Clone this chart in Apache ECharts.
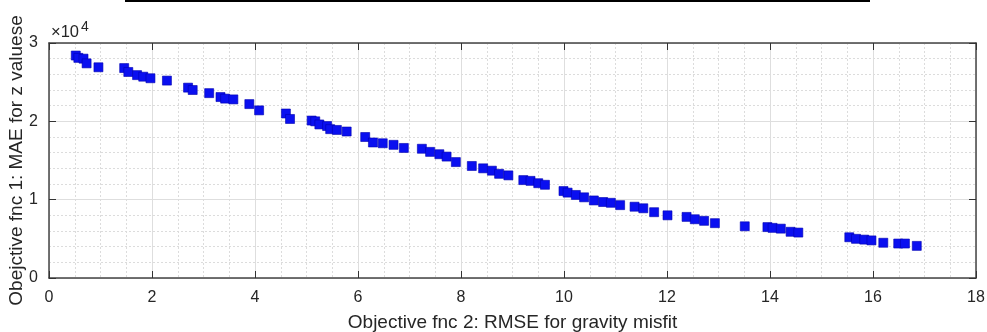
<!DOCTYPE html>
<html>
<head>
<meta charset="utf-8">
<script src="https://cdn.jsdelivr.net/npm/echarts@6/dist/echarts.min.js"></script>
<style>
  html, body { margin: 0; padding: 0; background: #fff; }
  #main { width: 987px; height: 332px; }
</style>
</head>
<body>
<div id="main"></div>
<script>
// RMSE for gravity misfit (x) and MAE for z values (y)
var rmse = [0.52, 0.57, 0.67, 0.73, 0.96, 1.46, 1.54, 1.71, 1.83, 1.97, 2.29, 2.70, 2.79, 3.11, 3.33, 3.42, 3.58, 3.89, 4.08,
  4.60, 4.68, 5.10, 5.17, 5.25, 5.40, 5.46, 5.59, 5.78, 6.14, 6.29, 6.48, 6.69, 6.89, 7.24, 7.40, 7.58, 7.72,
  7.90, 8.21, 8.43, 8.60, 8.74, 8.92, 9.21, 9.35, 9.50, 9.63, 9.99, 10.07, 10.23, 10.39, 10.58, 10.76, 10.91, 11.09, 11.37,
  11.54, 11.75, 12.01, 12.38, 12.54, 12.72, 12.93, 13.51, 13.95, 14.05, 14.21, 14.40, 14.55,
  15.54, 15.67, 15.83, 15.97, 16.20, 16.49, 16.62, 16.85];
var mae = [28400, 28100, 28000, 27400, 26900, 26800, 26300, 25900, 25700, 25500, 25200, 24300, 24000, 23600, 23100, 22900, 22800, 22200, 21400,
  21000, 20300, 20100, 20000, 19600, 19400, 19000, 18900, 18700, 18000, 17300, 17200, 17000, 16600, 16500, 16100, 15800, 15500,
  14800, 14300, 14000, 13700, 13300, 13100, 12500, 12400, 12100, 11900, 11100, 10900, 10600, 10300, 9900, 9700, 9600, 9300, 9100,
  8900, 8400, 8000, 7800, 7500, 7300, 7000, 6600, 6500, 6400, 6300, 5900, 5800,
  5200, 5000, 4900, 4800, 4500, 4400, 4400, 4100];
var xTicks = [0, 18, 2];
var yTicks = [0, 30000, 10000];

var points = rmse.map(function (v, i) { return [v, mae[i]]; });

var myChart = echarts.init(document.getElementById('main'), null, { renderer: 'canvas' });

var font = 'Liberation Sans, Arial, sans-serif';
var txt = { fontFamily: font, fontSize: 16, color: '#262626' };
var nameTxt = { fontFamily: font, fontSize: 19, color: '#262626' };
var gridLine = { show: true, lineStyle: { color: '#dedede', width: 1 } };
var minorLine = { show: true, lineStyle: { color: '#dcdcdc', width: 1, type: [2, 2] } };
var tickIn = { show: true, inside: true, length: 7, lineStyle: { color: '#333', width: 1 } };
var line = { show: true, onZero: false, lineStyle: { color: '#444', width: 1.5 } };

var option = {
  backgroundColor: '#fff',
  animation: false,
  grid: { left: 49, top: 43, right: 11, bottom: 54, containLabel: false, outerBoundsMode: 'none' },
  xAxis: [{
    type: 'value', min: xTicks[0], max: xTicks[1], interval: xTicks[2],
    name: 'Objective fnc 2: RMSE for gravity misfit',
    nameLocation: 'middle', nameGap: 35, nameMoveOverlap: false,
    nameTextStyle: nameTxt,
    axisLine: line, axisTick: tickIn,
    axisLabel: Object.assign({ margin: 12 }, txt),
    splitLine: gridLine,
    minorTick: { show: false, splitNumber: 4 },
    minorSplitLine: minorLine
  }, {
    type: 'value', position: 'top', min: xTicks[0], max: xTicks[1], interval: xTicks[2],
    axisLine: line, axisTick: tickIn, axisLabel: { show: false }, splitLine: { show: false }
  }],
  yAxis: [{
    type: 'value', min: yTicks[0], max: yTicks[1], interval: yTicks[2],
    name: 'Obejctive fnc 1: MAE for z valuese',
    nameLocation: 'middle', nameGap: 23, nameMoveOverlap: false,
    nameTextStyle: nameTxt,
    axisLine: line, axisTick: tickIn,
    axisLabel: Object.assign({ margin: 11, formatter: function (v) { return v / 10000; } }, txt),
    splitLine: gridLine,
    minorTick: { show: false, splitNumber: 5 },
    minorSplitLine: minorLine
  }, {
    type: 'value', position: 'right', min: yTicks[0], max: yTicks[1], interval: yTicks[2],
    axisLine: line, axisTick: tickIn, axisLabel: { show: false }, splitLine: { show: false }
  }],
  graphic: [
    { type: 'rect', left: 125, top: 0, shape: { width: 745, height: 2 }, style: { fill: '#000' } },
    { type: 'text', left: 51, top: 24, style: { text: '×10', fontSize: 16.5, fontFamily: font, fill: '#262626' } },
    { type: 'text', left: 81, top: 20, style: { text: '4', fontSize: 14, fontFamily: font, fill: '#262626' } }
  ],
  series: [{
    type: 'scatter',
    data: points,
    symbol: 'rect',
    symbolSize: 9,
    itemStyle: { color: '#0a0ff0', borderColor: '#0000b0', borderWidth: 0.6, opacity: 1 }
  }]
};

myChart.setOption(option);
</script>
</body>
</html>
